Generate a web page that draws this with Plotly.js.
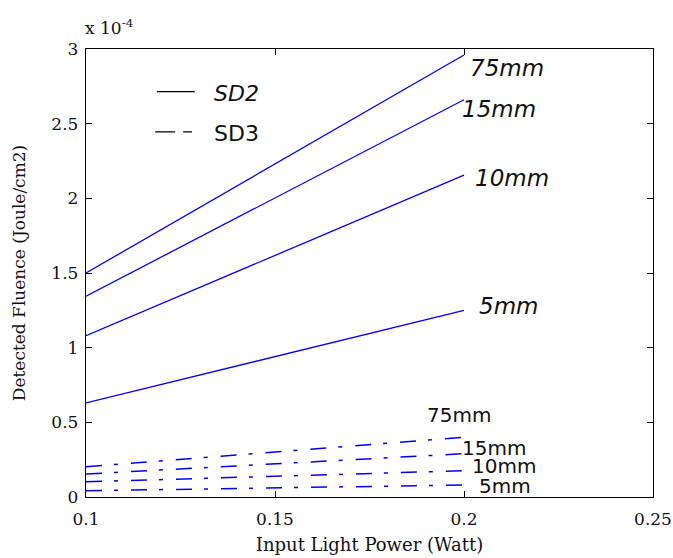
<!DOCTYPE html>
<html>
<head>
<meta charset="utf-8">
<script src="https://cdn.plot.ly/plotly-3.0.1.min.js"></script>
<style>html,body{margin:0;padding:0;background:#fff;}#chart{width:673px;height:558px;}</style>
</head>
<body>
<div id="chart"></div>
<script>
// Input light power (Watt)
const power = [0.1, 0.2];
// Source-detector distances
const distances = ['75mm', '15mm', '10mm', '5mm'];
// SD2 (solid) detected fluence, units of 1e-4 J/cm2
const sd2_75mm = [1.50, 2.96];
const sd2_15mm = [1.345, 2.66];
const sd2_10mm = [1.08, 2.155];
const sd2_5mm  = [0.63, 1.25];
// SD3 (dash-dot) detected fluence, units of 1e-4 J/cm2
const sd3_75mm = [0.203, 0.40];
const sd3_15mm = [0.154, 0.29];
const sd3_10mm = [0.102, 0.176];
const sd3_5mm  = [0.042, 0.08];

const sd2 = [sd2_75mm, sd2_15mm, sd2_10mm, sd2_5mm];
const sd3 = [sd3_75mm, sd3_15mm, sd3_10mm, sd3_5mm];

const BLUE = '#0000ff';
const traces = [];
sd2.forEach((v, i) => traces.push({
  x: power, y: v, type: 'scatter', mode: 'lines', name: 'SD2 ' + distances[i],
  line: {color: BLUE, width: 1.3}, showlegend: false, hoverinfo: 'skip'
}));
sd3.forEach((v, i) => traces.push({
  x: power, y: v, type: 'scatter', mode: 'lines', name: 'SD3 ' + distances[i],
  line: {color: BLUE, width: 1.5, dash: '16px,12px,4px,13px'}, showlegend: false, hoverinfo: 'skip'
}));

// label positions (layout only)
const sd2LabelPos = [[0.2011, 2.876], [0.1990, 2.595], [0.2025, 2.134], [0.2035, 1.278]];
const sd3LabelPos = [[0.1897, 0.549], [0.1990, 0.331], [0.2016, 0.207], [0.2034, 0.077]];

const serif = 'DejaVu Serif, serif';
const sans = 'DejaVu Sans, sans-serif';

const annotations = [];
distances.forEach((d, i) => {
  annotations.push({x: sd2LabelPos[i][0], y: sd2LabelPos[i][1], xref: 'x', yref: 'y', text: '<i>' + d + '</i>',
    showarrow: false, xanchor: 'left', yanchor: 'middle', font: {family: sans, size: 23, color: '#111'}});
  annotations.push({x: sd3LabelPos[i][0], y: sd3LabelPos[i][1], xref: 'x', yref: 'y', text: d,
    showarrow: false, xanchor: 'left', yanchor: 'middle', font: {family: sans, size: 20, color: '#111'}});
});
// exponent
annotations.push({x: 0, y: 1, xref: 'paper', yref: 'paper', text: 'x 10<sup>-4</sup>', showarrow: false,
  xanchor: 'left', yanchor: 'bottom', yshift: 9, xshift: -3, font: {family: serif, size: 17, color: '#111'}});
// legend text
annotations.push({x: 0.223, y: 0.900, xref: 'paper', yref: 'paper', text: '<i>SD2</i>', showarrow: false,
  xanchor: 'left', yanchor: 'middle', font: {family: sans, size: 22, color: '#111'}});
annotations.push({x: 0.223, y: 0.812, xref: 'paper', yref: 'paper', text: 'SD3', showarrow: false,
  xanchor: 'left', yanchor: 'middle', font: {family: sans, size: 22, color: '#111'}});

const shapes = [
  {type: 'line', xref: 'paper', yref: 'paper', x0: 0.125, x1: 0.192, y0: 0.905, y1: 0.905,
   line: {color: '#000', width: 1.3}},
  {type: 'line', xref: 'paper', yref: 'paper', x0: 0.122, x1: 0.187, y0: 0.815, y1: 0.815,
   line: {color: '#000', width: 1.3, dash: '20px,8px'}}
];

const axisCommon = {
  showgrid: false, zeroline: false, showline: true, linecolor: '#000', linewidth: 1.2,
  mirror: 'ticks', ticks: 'inside', ticklen: 6, tickcolor: '#000',
  tickfont: {family: serif, size: 17, color: '#111'}
};

const layout = {
  width: 673, height: 558,
  margin: {l: 86, r: 20, t: 49, b: 61},
  paper_bgcolor: '#fff', plot_bgcolor: '#fff',
  showlegend: false,
  xaxis: Object.assign({}, axisCommon, {
    range: [0.1, 0.25], tickvals: [0.1, 0.15, 0.2, 0.25], ticktext: ['0.1', '0.15', '0.2', '0.25'],
    ticklabelstandoff: 6,
    title: {text: 'Input Light Power (Watt)', font: {family: serif, size: 18, color: '#111'}, standoff: 10}
  }),
  yaxis: Object.assign({}, axisCommon, {
    range: [0, 3], tickvals: [0, 0.5, 1, 1.5, 2, 2.5, 3], ticktext: ['0', '0.5', '1', '1.5', '2', '2.5', '3'],
    ticklabelstandoff: 3,
    title: {text: 'Detected Fluence (Joule/cm2)', font: {family: serif, size: 17, color: '#111'}, standoff: 21}
  }),
  annotations: annotations,
  shapes: shapes
};

Plotly.newPlot('chart', traces, layout, {displayModeBar: false, staticPlot: true});
</script>
</body>
</html>
